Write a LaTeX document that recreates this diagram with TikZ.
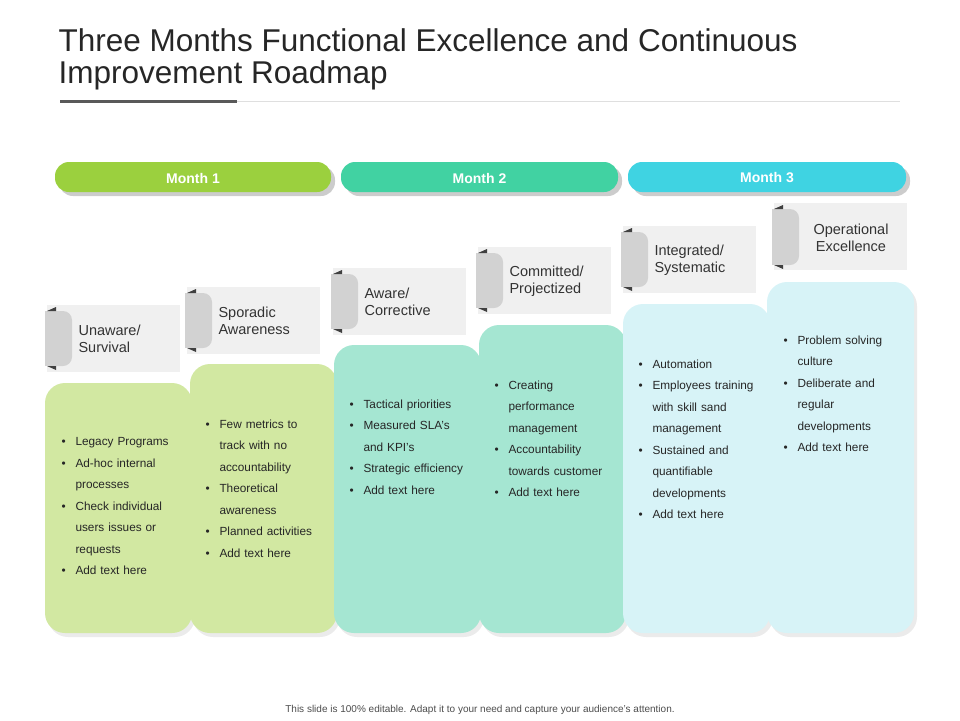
\documentclass[tikz,border=0pt]{standalone}
\usepackage{fontspec}
\setmainfont{Liberation Sans}
\newcommand{\bi}{\leavevmode\hbox to 14pt{\textbullet\hfil}}
\newcommand{\ii}{\leavevmode\hbox to 14pt{}}
\begin{document}
\begin{tikzpicture}[x=1pt,y=-1pt,
  bar/.style={font=\bfseries\fontsize{14}{16}\selectfont, text=white},
  card/.style={rounded corners=20pt},
  lab/.style={fill=gray!12, draw=none},
  labtxt/.style={anchor=west, align=left, font=\fontsize{14.5}{17}\selectfont, text=black!80},
  btxt/.style={anchor=north west, align=left, text width=110pt, font=\fontsize{11.8}{21.5}\selectfont, text=black!85}]
\useasboundingbox (0,0) rectangle (960,720);
\definecolor{g1}{HTML}{9BD03E}\definecolor{g2}{HTML}{41D2A2}\definecolor{g3}{HTML}{3FD3E2}
\definecolor{c1}{HTML}{D2E8A2}\definecolor{c2}{HTML}{A5E6D2}\definecolor{c3}{HTML}{D7F3F7}
% title
\node[anchor=north west, align=left, font=\fontsize{31.5}{32.5}\selectfont, text=black!85] (title) at (55,25) {Three Months Functional Excellence and Continuous\\Improvement Roadmap};
\draw[gray!25, line width=0.8pt] (60,101) -- (900,101);
\draw[gray!70!black, line width=3pt] (60,101) -- (237,101);
% month bars
\foreach \a/\b/\c/\t/\n in {55/331/g1/Month 1/m1,341/618/g2/Month 2/m2,628/906/g3/Month 3/m3}{
  \fill[gray!40, rounded corners=14pt] (\a+4,166) rectangle (\b+4,196);
  \fill[\c, rounded corners=14pt] (\a,162) rectangle (\b,192);
  \node[bar] (\n) at ({(\a+\b)/2},178) {\t};
}
% cards
\foreach \x/\t/\c/\n in {45/383/c1/k1,190/364/c1/k2,334/345/c2/k3,479/325/c2/k4,623/304/c3/k5,767/282/c3/k6}{
  \fill[black!8, rounded corners=20pt] (\x+3,\t+4) rectangle (\x+150,637);
  \fill[\c, card] (\x,\t) rectangle (\x+147,633);
  \coordinate (\n) at (\x,\t);
}
% labels
\foreach \x/\y/\t/\n in {47/305/{Unaware/\\Survival}/l1,187/287/{Sporadic\\Awareness}/l2,333/268/{Aware/\\Corrective}/l3,478/247/{Committed/\\Projectized}/l4,623/226/{Integrated/\\Systematic}/l5}{
  \fill[lab] (\x,\y) rectangle (\x+133,\y+67);
  \fill[gray!35, rounded corners=9pt] (\x-2,\y+6) rectangle (\x+25,\y+61);
  \fill[gray!35] (\x-2,\y+6) rectangle (\x+8,\y+61);
  \fill[black!75] (\x,\y+6) -- (\x+9,\y+2) -- (\x+9,\y+6) -- cycle;
  \fill[black!75] (\x,\y+61) -- (\x+9,\y+65) -- (\x+9,\y+61) -- cycle;
  \node[labtxt] (\n) at (\x+28,\y+34) {\t};
}
\fill[lab] (774,203) rectangle (907,270);
\fill[gray!35, rounded corners=9pt] (772,209) rectangle (799,265);
\fill[gray!35] (772,209) rectangle (782,265);
\fill[black!75] (774,209) -- (783,205) -- (783,209) -- cycle;
\fill[black!75] (774,265) -- (783,269) -- (783,265) -- cycle;
\node[align=center, font=\fontsize{14.5}{17}\selectfont, text=black!80] (l6) at (851,238) {Operational\\Excellence};
% bullets
\node[btxt] (b1) at (58,434) {\bi Legacy Programs\\\bi Ad-hoc internal\\\ii processes\\\bi Check individual\\\ii users issues or\\\ii requests\\\bi Add text here};
\node[btxt] (b2) at (202,416) {\bi Few metrics to\\\ii track with no\\\ii accountability\\\bi Theoretical\\\ii awareness\\\bi Planned activities\\\bi Add text here};
\node[btxt,text width=125pt] (b3) at (346,396) {\bi Tactical priorities\\\bi Measured SLA's\\\ii and KPI's\\\bi Strategic efficiency\\\bi Add text here};
\node[btxt,text width=125pt] (b4) at (491,377) {\bi Creating\\\ii performance\\\ii management\\\bi Accountability\\\ii towards customer\\\bi Add text here};
\node[btxt,text width=125pt] (b5) at (635,356) {\bi Automation\\\bi Employees training\\\ii with skill sand\\\ii management\\\bi Sustained and\\\ii quantifiable\\\ii developments\\\bi Add text here};
\node[btxt,text width=125pt] (b6) at (780,332) {\bi Problem solving\\\ii culture\\\bi Deliberate and\\\ii regular\\\ii developments\\\bi Add text here};
\node[font=\fontsize{10}{12}\selectfont, text=black!70] (foot) at (480,710) {This slide is 100\% editable. Adapt it to your need and capture your audience's attention.};
\end{tikzpicture}
\end{document}
